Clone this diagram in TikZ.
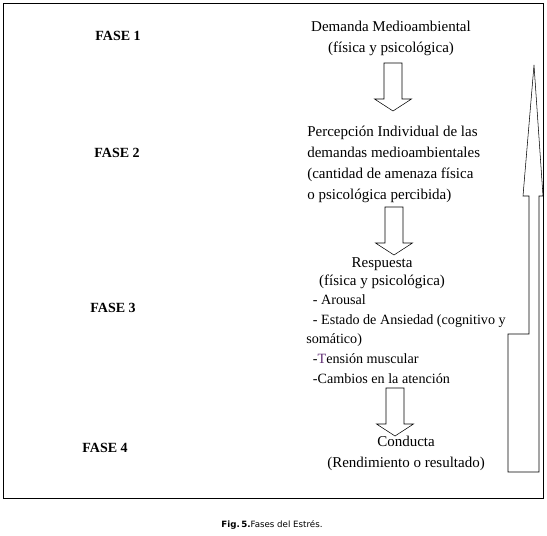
\documentclass[tikz,border=0pt]{standalone}
\usepackage{fontspec}
\setmainfont{Liberation Serif}
\newfontfamily\capfont{DejaVu Sans}
\definecolor{tcolor}{RGB}{95,45,115}

\tikzset{
  fase/.style={anchor=center, inner sep=0pt, font=\fontsize{10.5}{12}\selectfont\bfseries},
  txt/.style={inner sep=0pt, font=\fontsize{11.25}{15.75}\selectfont},
  lst/.style={inner sep=0pt, align=left, font=\fontsize{10.6}{14.8}\selectfont},
}

\begin{document}
\begin{tikzpicture}[x=0.75pt,y=-0.75pt]
\useasboundingbox (0,0) rectangle (547,536);
\draw (3,3) rectangle (543,498);

% phases
\node[fase] (f1) at (118,36) {FASE 1};
\node[fase] (f2) at (117,153) {FASE 2};
\node[fase] (f3) at (113,308) {FASE 3};
\node[fase] (f4) at (105,448) {FASE 4};

% text blocks
\node[txt, align=center] (dem) at (391,38) {Demanda Medioambiental\\(física y psicológica)};
\node[txt, align=left, anchor=west] (per) at (307,164.5) {Percepción Individual de las\\demandas medioambientales\\(cantidad de amenaza física\\o psicológica percibida)};
\node[txt, align=center, font=\fontsize{11.25}{13.5}\selectfont] (res) at (382,273) {Respuesta\\(física y psicológica)};
\node[lst, anchor=west] (lis) at (306,339) {\hspace*{5pt}- Arousal\\\hspace*{5pt}- Estado de Ansiedad (cognitivo y\\somático)\\\hspace*{5pt}-\textcolor{tcolor}{T}ensión muscular\\\hspace*{5pt}-Cambios en la atención};
\node[txt, align=center] (con) at (406,453) {Conducta\\(Rendimiento o resultado)};

% block arrows
\foreach \cx/\ty in {393/63, 394/207, 395/388}
  \draw (\cx-9,\ty) -- (\cx+9,\ty) -- (\cx+9,\ty+36) -- (\cx+18.5,\ty+36)
     -- (\cx,\ty+48) -- (\cx-18.5,\ty+36) -- (\cx-9,\ty+36) -- cycle;

% feedback arrow
\draw (534,65) -- (543,196) -- (539,196) -- (539,472) -- (508,472) -- (508,334)
   -- (529,334) -- (529,196) -- (523,196) -- cycle;

\node[inner sep=0pt, font=\capfont\fontsize{6.5}{8}\selectfont] (cap) at (272,525) {\textbf{Fig.\,5.}Fases del Estrés.};
\end{tikzpicture}
\end{document}
